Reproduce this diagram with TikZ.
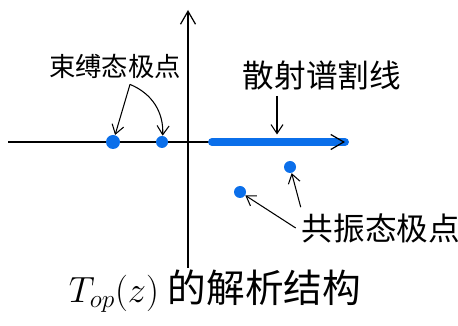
\documentclass[tikz,border=0pt]{standalone}
\usepackage{fontspec}
\usepackage{tikz}
\usetikzlibrary{arrows.meta,positioning}
\newfontfamily\cjkfont{Noto Sans CJK SC}
\definecolor{poleblue}{HTML}{0B6FEA}

\begin{document}
\begin{tikzpicture}[x=1cm,y=1cm,font=\cjkfont\fontsize{15}{18}\selectfont,
 ax/.style={-{Straight Barb[length=2.6mm,width=3mm]},line width=.7pt},
 ar/.style={-{Straight Barb[length=1.8mm,width=2.4mm]},line width=.6pt},
 big/.style={font=\cjkfont\fontsize{18}{22}\selectfont},
 pole/.style={circle,fill=poleblue,inner sep=0pt,minimum size=#1}]
\useasboundingbox (0,0) rectangle (9.16,6.5);
% axes
\coordinate (xl) at (.16,3.66);
\coordinate (xr) at (6.9,3.66);
\coordinate (yb) at (3.76,1.14);
\coordinate (yt) at (3.76,6.3);
\draw[line width=.6pt] (xl) -- (xr);
\draw[ax] (yb) -- (yt);
% scattering cut
\coordinate (c0) at (4.24,3.66);
\draw[poleblue,line width=4.5pt,line cap=round] (c0) -- (xr);
\draw[ax] (6.86,3.66) -- (xr);
% poles
\node[pole=2.8mm] (b1) at (2.26,3.66) {};
\node[pole=2.4mm] (b2) at (3.24,3.66) {};
\node[pole=2.4mm] (r1) at (5.8,3.16) {};
\node[pole=2.4mm] (r2) at (4.8,2.66) {};
% labels
\node (bl) at (2.3,5.18) {束缚态极点};
\node[big] (sl) at (6.44,5.0) {散射谱割线};
\node[big] (rl) at (7.62,1.94) {共振态极点};
\node[font=\cjkfont\fontsize{22}{26}\selectfont] (tl) at (4.3,.68) {$T_{op}(z)$ 的解析结构};
% pointers
\draw[ar] (bl.south) ++(.3,0) coordinate (bf) -- (b1);
\draw[ar] (bf) to[bend left=35] (b2);
\draw[ar] (sl.south) ++(-.9,0) coordinate (sf) -- ([yshift=1.5mm]sf |- xr);
\draw[ar] (rl.west) -- (r2);
\draw[ar] ([xshift=.1cm]rl.north west) -- (r1);
\end{tikzpicture}
\end{document}
